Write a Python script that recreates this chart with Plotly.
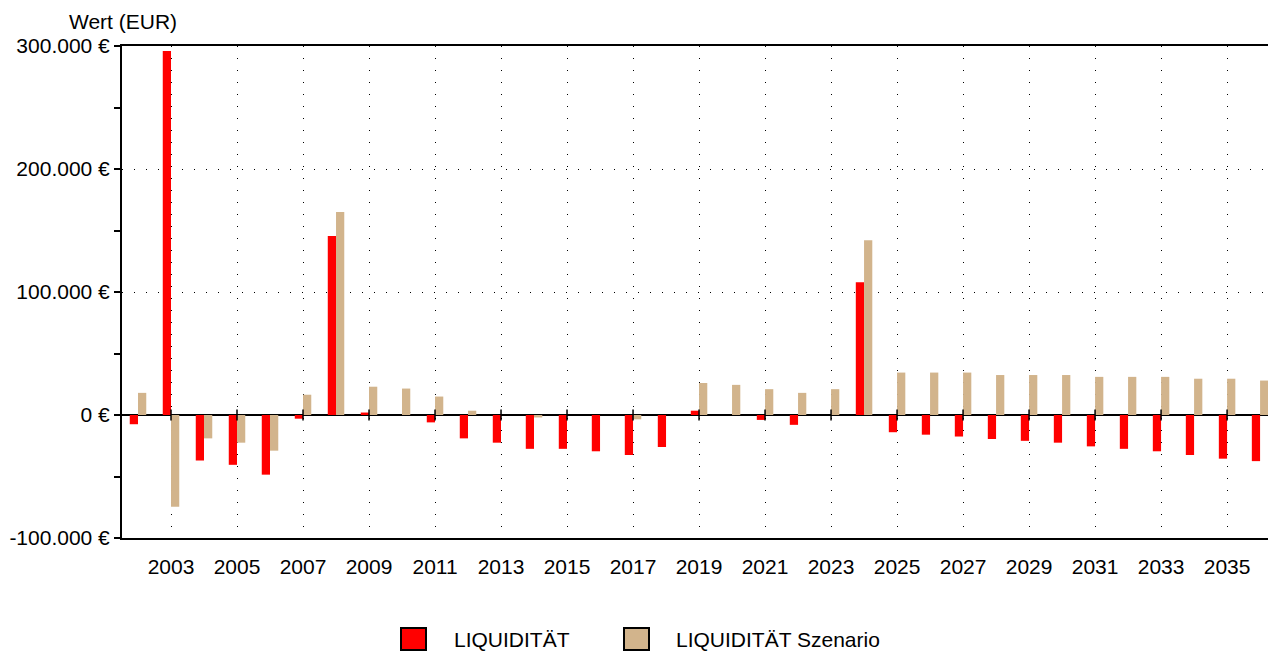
import plotly.graph_objects as go

# ---- data ----
years = list(range(2002, 2037))
liquiditaet = [
    -7500, 296000, -37000, -40500, -48500, -3000, 145500, 2000, 0, -6000,
    -19000, -22500, -27500, -27500, -29500, -32500, -26000, 3500, 0, -4000,
    -8000, 0, 108000, -14000, -16000, -17500, -19500, -21000, -22500, -25500,
    -27500, -29500, -32500, -35500, -37500,
]
liquiditaet_szenario = [
    18000, -74500, -19000, -22500, -29000, 16500, 165000, 23000, 21500, 15000,
    3500, 0, -2000, 0, 0, -3500, 0, 26000, 24500, 21000,
    18000, 21000, 142000, 34500, 34500, 34500, 32500, 32500, 32500, 31000,
    31000, 31000, 29500, 29500, 28000,
]
series_names = ["LIQUIDITÄT", "LIQUIDITÄT Szenario"]
x_tick_years = list(range(2003, 2036, 2))
x_tick_text = [str(y) for y in x_tick_years]
y_tick_vals = [-100000, 0, 100000, 200000, 300000]
y_tick_text = ["-100.000 €", "0 €", "100.000 €", "200.000 €", "300.000 €"]
y_axis_title = "Wert (EUR)"

# ---- styling ----
RED = "#FF0000"
TAN = "#D2B48C"
FONT = "Liberation Sans"
FS = 21
W, H = 1268, 654
L, R, T, B = 122, 0, 46, 116
PW, PH = W - L - R, H - T - B


def px_x(p):
    return (p - L) / PW


def px_y(p):
    return (H - B - p) / PH


fig = go.Figure()
fig.add_trace(go.Bar(x=years, y=liquiditaet, name=series_names[0],
                     marker=dict(color=RED, line=dict(width=0)), showlegend=False))
fig.add_trace(go.Bar(x=years, y=liquiditaet_szenario, name=series_names[1],
                     marker=dict(color=TAN, line=dict(width=0)), showlegend=False))
# small tick marks on the zero line at the labelled years
fig.add_trace(go.Scatter(x=x_tick_years, y=[0] * len(x_tick_years), mode="markers",
                         marker=dict(symbol="line-ns", size=8,
                                     line=dict(width=1.5, color="black")),
                         showlegend=False, hoverinfo="skip"))

dots = "1px,11px"
fig.update_layout(
    width=W, height=H,
    margin=dict(l=L, r=R, t=T, b=B, pad=0),
    paper_bgcolor="white", plot_bgcolor="white",
    barmode="group", bargap=0.5, bargroupgap=0,
    font=dict(family=FONT, size=FS, color="black"),
    hovermode=False,
    xaxis=dict(
        range=[2001.515, 2036.24], tickmode="array",
        tickvals=x_tick_years, ticktext=x_tick_text,
        showgrid=True, gridcolor="black", gridwidth=1, griddash=dots,
        showline=True, linecolor="black", linewidth=2, mirror=True,
        ticks="", zeroline=False, ticklabelstandoff=9,
        tickfont=dict(family=FONT, size=FS, color="black"),
    ),
    yaxis=dict(
        range=[-100000, 300000], tickmode="array",
        tickvals=y_tick_vals, ticktext=y_tick_text,
        showgrid=True, gridcolor="black", gridwidth=1, griddash=dots,
        zeroline=True, zerolinecolor="black", zerolinewidth=2,
        showline=True, linecolor="black", linewidth=2,
        ticks="outside", ticklen=6, tickwidth=1.5, tickcolor="black",
        minor=dict(tickmode="linear", tick0=0, dtick=50000, ticks="outside",
                   ticklen=6, tickwidth=1.5, tickcolor="black", showgrid=False),
        tickfont=dict(family=FONT, size=FS, color="black"),
    ),
)

fig.add_annotation(text=y_axis_title, xref="paper", yref="paper",
                   x=px_x(67), y=px_y(22), xanchor="left", yanchor="middle",
                   showarrow=False, font=dict(family=FONT, size=FS, color="black"))

# manual legend (large square swatches)
legend_items = [
    (series_names[0], RED, 401, 452),
    (series_names[1], TAN, 624, 674),
]
for name, col, sx, tx in legend_items:
    fig.add_shape(type="rect", xref="paper", yref="paper",
                  x0=px_x(sx), x1=px_x(sx + 25), y0=px_y(650), y1=px_y(628),
                  fillcolor=col, line=dict(color="black", width=2))
    fig.add_annotation(text=name, xref="paper", yref="paper",
                       x=px_x(tx), y=px_y(639), xanchor="left", yanchor="middle",
                       showarrow=False, font=dict(family=FONT, size=FS, color="black"))

fig.write_html(
    "out.html",
    config={"displayModeBar": False},
    post_script="document.body.style.margin='0';document.body.style.overflow='hidden';",
)
